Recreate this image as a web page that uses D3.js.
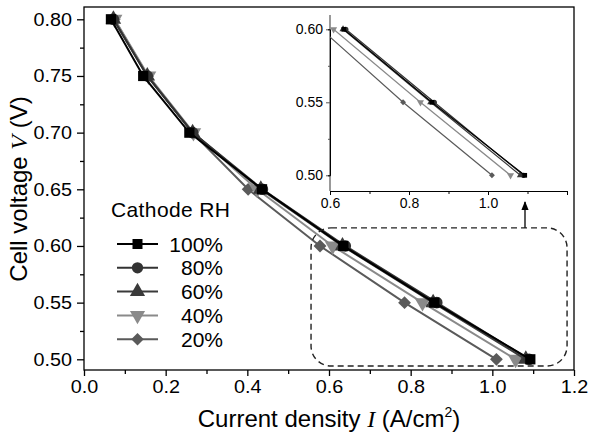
<!DOCTYPE html>
<html>
<head>
<meta charset="utf-8">
<script src="https://cdn.jsdelivr.net/npm/d3@7"></script>
<style>
body{margin:0;background:#fff;}
text{font-family:"Liberation Sans",Arial,sans-serif;}
</style>
</head>
<body>
<script>
// cell voltage steps (V)
const voltage=[0.80,0.75,0.70,0.65,0.60,0.55,0.50]
// current density (A/cm2) per cathode RH
const rh100=[0.066,0.145,0.258,0.436,0.635,0.858,1.093]
const rh80=[0.072,0.155,0.266,0.437,0.640,0.864,1.090]
const rh60=[0.072,0.155,0.266,0.433,0.633,0.855,1.082]
const rh40=[0.075,0.158,0.268,0.424,0.609,0.829,1.057]
const rh20=[0.074,0.156,0.265,0.402,0.578,0.785,1.010]
const labels=["100%","80%","60%","40%","20%"]
const xTicks=[0,0.2,0.4,0.6,0.8,1.0,1.2]
const yTicks=[0.50,0.55,0.60,0.65,0.70,0.75,0.80]
const insetXTicks=[0.6,0.8,1.0]
const insetYTicks=[0.50,0.55,0.60]

const series=[
  {name:labels[0],x:rh100,color:"#000",sym:d3.symbolSquare},
  {name:labels[1],x:rh80,color:"#333",sym:d3.symbolCircle},
  {name:labels[2],x:rh60,color:"#3a3a3a",sym:d3.symbolTriangle},
  {name:labels[3],x:rh40,color:"#8a8a8a",sym:"down"},
  {name:labels[4],x:rh20,color:"#5a5a5a",sym:d3.symbolDiamond2}
]

const svg=d3.select("body").append("svg")
            .attr("width",590).attr("height",434)

const x=d3.scaleLinear().domain([0,1.2]).range([84,574])
const y=d3.scaleLinear().domain([0.50,0.80]).range([359.3,19.3])
const yTop=7,yBot=370

function marker(g,s,size){
  if(s.sym==="down"){
    g.append("path").attr("d",d3.symbol(d3.symbolTriangle,size)()).attr("transform","rotate(180)")
     .attr("fill",s.color)
  }else{
    g.append("path").attr("d",d3.symbol(s.sym,size)()).attr("fill",s.color)
  }
}

// frame
svg.append("rect").attr("x",x(0)).attr("y",yTop).attr("width",x(1.2)-x(0)).attr("height",yBot-yTop)
   .attr("fill","none").attr("stroke","#000").attr("stroke-width",1.3)

// x axis
const xa=svg.append("g").attr("transform",`translate(0,${yBot})`)
  .call(d3.axisBottom(x).tickValues(xTicks).tickFormat(d3.format(".1f")).tickSize(6).tickPadding(4))
xa.append("g").call(d3.axisBottom(x).tickValues(d3.range(0.1,1.2,0.2)).tickSize(4).tickFormat(""))
xa.selectAll(".domain").remove()
xa.selectAll("line").attr("stroke","#000").attr("stroke-width",1.3)
xa.selectAll("text").attr("font-size",18).attr("fill","#000").attr("transform","scale(1.1,1)")

const ya=svg.append("g").attr("transform",`translate(${x(0)},0)`)
  .call(d3.axisLeft(y).tickValues(yTicks).tickFormat(d3.format(".2f")).tickSize(7).tickPadding(4))
ya.append("g").call(d3.axisLeft(y).tickValues(d3.range(0.525,0.8,0.05)).tickSize(4).tickFormat(""))
ya.selectAll(".domain").remove()
ya.selectAll("line").attr("stroke","#000").attr("stroke-width",1.3)
ya.selectAll("text").attr("font-size",18).attr("fill","#000").attr("transform","scale(1.1,1)")

// titles
const xt=svg.append("text").attr("x",329).attr("y",427).attr("text-anchor","middle").attr("font-size",24)
xt.append("tspan").text("Current density ")
xt.append("tspan").text("I").attr("font-family","Liberation Serif").attr("font-style","italic")
xt.append("tspan").text(" (A/cm")
xt.append("tspan").text("2").attr("font-size",14).attr("dy",-10)
xt.append("tspan").text(")").attr("dy",10)

const yt=svg.append("text").attr("transform","translate(27,189) rotate(-90)").attr("text-anchor","middle").attr("font-size",24)
yt.append("tspan").text("Cell voltage ")
yt.append("tspan").text("V").attr("font-family","Liberation Serif").attr("font-style","italic")
yt.append("tspan").text(" (V)")

// curves
const line=d3.line().x(d=>x(d[0])).y(d=>y(d[1]))
series.slice().reverse().forEach(s=>{
  const pts=s.x.map((v,i)=>[v,voltage[i]])
  svg.append("path").attr("d",line(pts)).attr("fill","none").attr("stroke",s.color).attr("stroke-width",2)
  pts.forEach(p=>{
    const g=svg.append("g").attr("transform",`translate(${x(p[0])},${y(p[1])})`)
    marker(g,s,105)
  })
})

// zoom box and arrow
svg.append("rect").attr("x",x(0.556)).attr("y",y(0.616)).attr("width",x(1.183)-x(0.556))
   .attr("height",y(0.4941)-y(0.616)).attr("rx",20).attr("fill","none")
   .attr("stroke","#222").attr("stroke-width",1.4).attr("stroke-dasharray","6,4")
svg.append("defs").append("marker").attr("id","ah").attr("viewBox","0 0 10 10").attr("refX",9).attr("refY",5)
   .attr("markerWidth",7).attr("markerHeight",7).attr("orient","auto")
   .append("path").attr("d","M0,1L10,5L0,9Z").attr("fill","#000")
svg.append("line").attr("x1",x(1.08)).attr("x2",x(1.08)).attr("y1",y(0.616)).attr("y2",202)
   .attr("stroke","#000").attr("stroke-width",1.3).attr("marker-end","url(#ah)")

// legend
const lg=svg.append("g")
lg.append("text").attr("x",111).attr("y",217).attr("font-size",21).attr("textLength",119).text("Cathode RH")
series.forEach((s,i)=>{
  const cy=244+i*23.8
  lg.append("line").attr("x1",117).attr("x2",158).attr("y1",cy).attr("y2",cy).attr("stroke",s.color).attr("stroke-width",2)
  marker(lg.append("g").attr("transform",`translate(137.5,${cy})`),s,100)
  lg.append("text").attr("x",223).attr("y",cy+7.5).attr("text-anchor","end").attr("font-size",21).text(s.name)
})

// inset
const ix=d3.scaleLinear().domain([0.6,1.2]).range([330,567])
const iy=d3.scaleLinear().domain([0.50,0.60]).range([175.3,29.3])
const iTop=15,iBot=191
const inset=svg.append("g")
svg.append("clipPath").attr("id","ic").append("rect").attr("x",330).attr("y",iTop).attr("width",237).attr("height",iBot-iTop)
const ixa=inset.append("g").attr("transform",`translate(0,${iBot})`)
  .call(d3.axisBottom(ix).tickValues(insetXTicks).tickFormat(d3.format(".1f")).tickSize(4).tickPadding(3))
ixa.append("g").call(d3.axisBottom(ix).tickValues([0.7,0.9,1.1,1.2]).tickSize(3).tickFormat(""))
ixa.selectAll(".domain").attr("stroke","#000").attr("stroke-width",1)
ixa.selectAll("line").attr("stroke","#000")
ixa.selectAll("text").attr("font-size",14).attr("fill","#000")
const iya=inset.append("g").attr("transform",`translate(330,0)`)
  .call(d3.axisLeft(iy).tickValues(insetYTicks).tickFormat(d3.format(".2f")).tickSize(4).tickPadding(3))
iya.append("g").call(d3.axisLeft(iy).tickValues([0.525,0.575]).tickSize(2).tickFormat(""))
iya.select(".domain").attr("d",`M0,${iTop}V${iBot}`).attr("stroke","#777").attr("stroke-width",1.5)
iya.selectAll("line").attr("stroke","#555")
iya.selectAll("text").attr("font-size",14).attr("fill","#000")

const iline=d3.line().x(d=>ix(d[0])).y(d=>iy(d[1]))
const ic=inset.append("g").attr("clip-path","url(#ic)")
series.slice().reverse().forEach(s=>{
  const pts=s.x.map((v,i)=>[v,voltage[i]]).filter(p=>p[1]<=0.6)
  ic.append("path").attr("d",iline(pts)).attr("fill","none").attr("stroke",s.color).attr("stroke-width",1.2)
  pts.filter(p=>p[0]>=0.6).forEach(p=>{
    marker(ic.append("g").attr("transform",`translate(${ix(p[0])},${iy(p[1])})`),s,22)
  })
})
</script>
</body>
</html>
